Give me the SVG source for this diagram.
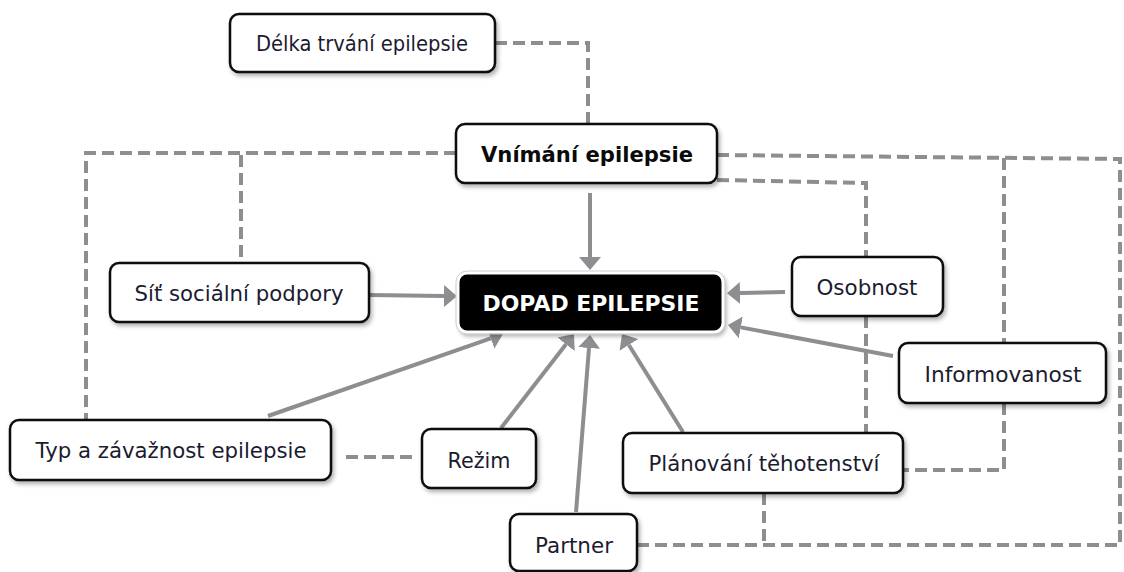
<svg xmlns="http://www.w3.org/2000/svg" width="1124" height="572" viewBox="0 0 1124 572">
<style>
.box{fill:#fff;stroke:#0a0a0a;stroke-width:2.5;filter:url(#sh)}
.lbl{font-family:"DejaVu Sans",Verdana,sans-serif;font-size:21.5px;fill:#1b1b30;text-anchor:middle}
.b{font-weight:bold;fill:#0a0a0a}
.dash{fill:none;stroke:#8e8e92;stroke-width:4;stroke-dasharray:12 6}
.arr{fill:none;stroke:#8e8e92;stroke-width:4;marker-end:url(#ah)}
</style>
<defs>
<filter id="sh" x="-10%" y="-20%" width="125%" height="150%">
<feDropShadow dx="2" dy="3" stdDeviation="2" flood-color="#000" flood-opacity="0.3"/>
</filter>
<marker id="ah" viewBox="0 0 13 22" refX="0" refY="11" markerWidth="13" markerHeight="22" markerUnits="userSpaceOnUse" orient="auto">
<path d="M0,0 L13,11 L0,22 z" fill="#8e8e92"/>
</marker>
</defs>
<rect width="1124" height="572" fill="#fff"/>
<g id="connectors">
<path class="dash" d="M495,43 H588 V124"/>
<path class="dash" d="M456,153 H86 V420"/>
<path class="dash" d="M241,155 V263"/>
<path class="dash" d="M717,155 L1120,159 V545 H637"/>
<path class="dash" d="M1004,158 V343"/>
<path class="dash" d="M1004,403 V470 H903"/>
<path class="dash" d="M717,180 L866,183 V257"/>
<path class="dash" d="M866,316 V433"/>
<path class="dash" d="M764,493 V545"/>
<path class="dash" d="M346,457 H414"/>
<path class="arr" d="M590,193 L590,257"/>
<path class="arr" d="M369,295 L444,296"/>
<path class="arr" d="M785,292 L740,293"/>
<path class="arr" d="M893,356 L740.8,327.4"/>
<path class="arr" d="M268,416 L490.7,338.3"/>
<path class="arr" d="M501,428 L566,344.3"/>
<path class="arr" d="M576,512 L589,348"/>
<path class="arr" d="M683,432 L628.9,345"/>
</g>
<g id="delka"><rect class="box" x="230" y="14" width="265" height="58" rx="9"/><text class="lbl" x="362" y="51" textLength="212" lengthAdjust="spacingAndGlyphs">Délka trvání epilepsie</text></g>
<g id="vnimani"><rect class="box" x="456" y="124" width="261" height="59" rx="9"/><text class="lbl b" x="587" y="162" textLength="212" lengthAdjust="spacingAndGlyphs">Vnímání epilepsie</text></g>
<g id="dopad"><rect x="458" y="273" width="265" height="59" rx="9" fill="#000" stroke="#fff" stroke-width="3" filter="url(#sh)"/><rect x="456" y="271" width="269" height="63" rx="11" fill="none" stroke="#cfcfcf" stroke-width="1"/><text class="lbl b" x="591" y="311" style="fill:#fff" textLength="217" lengthAdjust="spacingAndGlyphs">DOPAD EPILEPSIE</text></g>
<g id="sit"><rect class="box" x="110" y="263" width="259" height="59" rx="9"/><text class="lbl" x="239" y="301" textLength="209" lengthAdjust="spacingAndGlyphs">Síť sociální podpory</text></g>
<g id="osobnost"><rect class="box" x="792" y="257" width="151" height="59" rx="9"/><text class="lbl" x="867" y="295" textLength="101" lengthAdjust="spacingAndGlyphs">Osobnost</text></g>
<g id="informovanost"><rect class="box" x="899" y="343" width="207" height="60" rx="9"/><text class="lbl" x="1003" y="382" textLength="157" lengthAdjust="spacingAndGlyphs">Informovanost</text></g>
<g id="typ"><rect class="box" x="10" y="420" width="321" height="60" rx="9"/><text class="lbl" x="171" y="458" textLength="271" lengthAdjust="spacingAndGlyphs">Typ a závažnost epilepsie</text></g>
<g id="rezim"><rect class="box" x="422" y="429" width="114" height="59" rx="9"/><text class="lbl" x="479" y="468" textLength="63" lengthAdjust="spacingAndGlyphs">Režim</text></g>
<g id="planovani"><rect class="box" x="623" y="433" width="280" height="60" rx="9"/><text class="lbl" x="764" y="471" textLength="231" lengthAdjust="spacingAndGlyphs">Plánování těhotenství</text></g>
<g id="partner"><rect class="box" x="510" y="514" width="127" height="57" rx="9"/><text class="lbl" x="574" y="553" textLength="78" lengthAdjust="spacingAndGlyphs">Partner</text></g>
</svg>
